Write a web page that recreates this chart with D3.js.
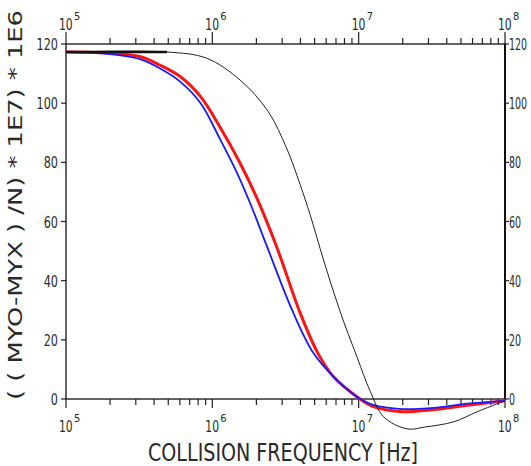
<!DOCTYPE html>
<html>
<head>
<meta charset="utf-8">
<script src="https://cdn.jsdelivr.net/npm/d3@7"></script>
<style>
  html, body { margin: 0; padding: 0; background: #fff; }
  svg { display: block; }
  text { font-family: "Liberation Sans Narrow", "DejaVu Sans Condensed", "Arial Narrow", sans-serif; fill: #2a2a2a; }
</style>
</head>
<body>
<div id="chart"></div>
<script>
// log10 of collision frequency [Hz] and curve values
const redExp = [5.0, 5.25, 5.51, 5.64, 5.78, 5.92, 6.05, 6.19, 6.30, 6.44, 6.60, 6.72, 6.83, 6.99, 7.10, 7.30, 7.49, 7.76, 8.0];
const redVal = [117.3, 117.0, 115.7, 112.9, 109.0, 102.2, 92.1, 79.7, 68.4, 51.4, 29.1, 15.6, 7.4, 0.7, -2.6, -4.3, -3.7, -2.0, -0.6];

const blueExp = [5.0, 5.25, 5.51, 5.64, 5.78, 5.92, 6.05, 6.17, 6.26, 6.37, 6.55, 6.69, 6.83, 6.99, 7.10, 7.30, 7.49, 7.76, 8.0];
const blueVal = [117.3, 116.8, 114.8, 111.8, 107.3, 100.0, 88.1, 76.3, 66.0, 52.0, 29.5, 15.6, 7.4, 0.7, -2.0, -3.4, -3.1, -1.5, -0.6];

const blackExp = [5.0, 5.69, 5.96, 6.19, 6.38, 6.51, 6.60, 6.67, 6.76, 6.87, 6.99, 7.08, 7.17, 7.33, 7.45, 7.65, 7.81, 8.0];
const blackVal = [117.3, 117.3, 115.2, 107.8, 97.3, 84.5, 72.5, 62.0, 47.0, 30.0, 14.0, 2.5, -6.0, -10.1, -9.5, -7.7, -4.3, -0.6];

// heavy start of the black trace (all curves overlap there)
const plateauExp = [5.0, 5.69];
const plateauVal = [117.3, 117.3];

const yTicks = [0, 20, 40, 60, 80, 100, 120];
const decades = [5, 6, 7, 8];
const xTitle = "COLLISION FREQUENCY   [Hz]";
const yTitle = "( ( MYO-MYX ) /N) * 1E7) * 1E6";

const width = 531, height = 466;
const svg = d3.select("#chart").append("svg")
  .attr("width", width).attr("height", height)
  .attr("viewBox", `0 0 ${width} ${height}`);

const x = d3.scaleLog().domain([1e5, 1e8]).range([66, 505]);
const y = d3.scaleLinear().domain([0, 120]).range([399, 44]);

const toPts = (ex, vals) => ex.map((e, i) => [Math.pow(10, e), vals[i]]);
const line = d3.line()
  .x((d) => x(d[0]))
  .y((d) => y(d[1]))
  .curve(d3.curveCatmullRom.alpha(0.5));

// frame
const [x0, x1] = x.range();
const [yb, yt] = y.range();
svg.append("rect")
  .attr("x", x0).attr("y", yt)
  .attr("width", x1 - x0).attr("height", yb - yt)
  .attr("fill", "none").attr("stroke", "#222").attr("stroke-width", 1.4);
svg.append("line")
  .attr("x1", x1).attr("x2", x1).attr("y1", yt).attr("y2", yb)
  .attr("stroke", "#111").attr("stroke-width", 2);

// log ticks top & bottom
const minor = [];
decades.slice(0, -1).forEach((d) => {
  for (let k = 2; k <= 9; k++) minor.push(k * Math.pow(10, d));
});
const major = decades.map((d) => Math.pow(10, d));

const tickG = svg.append("g").attr("stroke", "#222").attr("stroke-width", 1.2);
tickG.selectAll(".mt").data(minor).join("line")
  .attr("x1", (d) => x(d)).attr("x2", (d) => x(d))
  .attr("y1", yt).attr("y2", yt - 6);
tickG.selectAll(".mb").data(minor).join("line")
  .attr("x1", (d) => x(d)).attr("x2", (d) => x(d))
  .attr("y1", yb).attr("y2", yb + 6);
tickG.selectAll(".Mt").data(major).join("line")
  .attr("x1", (d) => x(d)).attr("x2", (d) => x(d))
  .attr("y1", yt).attr("y2", yt - 12);
tickG.selectAll(".Mb").data(major).join("line")
  .attr("x1", (d) => x(d)).attr("x2", (d) => x(d))
  .attr("y1", yb).attr("y2", yb + 9);

// y ticks both sides
tickG.selectAll(".yl").data(yTicks).join("line")
  .attr("x1", x0 - 5).attr("x2", x0)
  .attr("y1", (d) => y(d)).attr("y2", (d) => y(d));
tickG.selectAll(".yr").data(yTicks).join("line")
  .attr("x1", x1).attr("x2", x1 + 4)
  .attr("y1", (d) => y(d)).attr("y2", (d) => y(d));

// y tick labels, squeezed horizontally for the narrow plotter look
svg.selectAll(".ylab").data(yTicks).join("text")
  .attr("transform", (d) => `translate(${x0 - 8},${y(d) + 6}) scale(0.78,1)`)
  .attr("text-anchor", "end").attr("font-size", 16)
  .text((d) => d);
svg.selectAll(".yrlab").data(yTicks).join("text")
  .attr("transform", (d) => `translate(${x1 + 4},${y(d) + 6}) scale(0.66,1)`)
  .attr("text-anchor", "start").attr("font-size", 16)
  .text((d) => d);

// decade labels 10^n, bottom and top: base and exponent as separate texts
function decadeLabel(g, baseY) {
  g.selectAll(".base").data(decades).join("text")
    .attr("transform", (d) => `translate(${x(Math.pow(10, d)) - 7},${baseY}) scale(0.75,1)`)
    .attr("font-size", 16)
    .text("10");
  g.selectAll(".exp").data(decades).join("text")
    .attr("x", (d) => x(Math.pow(10, d)) + 8).attr("y", baseY - 10)
    .attr("font-size", 11)
    .text((d) => d);
}
svg.append("g").call(decadeLabel, 432);
svg.append("g").call(decadeLabel, 30);

// axis titles
svg.append("text")
  .attr("x", 148).attr("y", 461)
  .attr("font-size", 25)
  .attr("textLength", 270).attr("lengthAdjust", "spacingAndGlyphs")
  .text(xTitle);
svg.append("text")
  .attr("transform", "translate(22,400) rotate(-90)")
  .attr("font-size", 19)
  .attr("textLength", 390).attr("lengthAdjust", "spacingAndGlyphs")
  .text(yTitle);

// curves
const series = [
  { pts: toPts(redExp, redVal), color: "#ff1414", w: 3 },
  { pts: toPts(blueExp, blueVal), color: "#1a1aff", w: 1.8 },
  { pts: toPts(blackExp, blackVal), color: "#222", w: 1 },
  { pts: toPts(plateauExp, plateauVal), color: "#111", w: 2.6 },
];
svg.append("g").selectAll("path").data(series).join("path")
  .attr("d", (d) => line(d.pts))
  .attr("fill", "none")
  .attr("stroke", (d) => d.color)
  .attr("stroke-width", (d) => d.w)
  .attr("stroke-linejoin", "round");
</script>
</body>
</html>
